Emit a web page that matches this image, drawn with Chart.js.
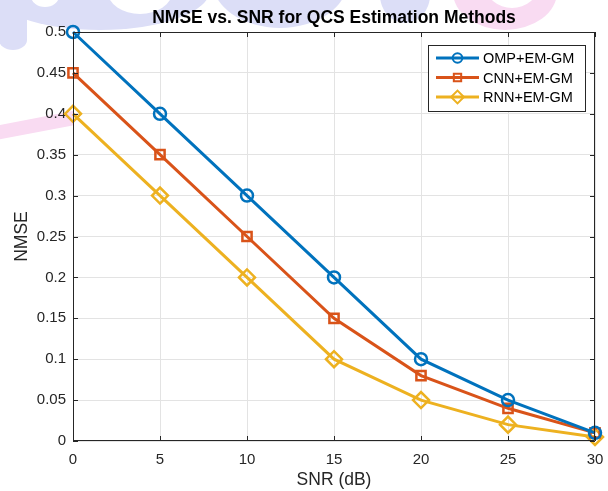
<!DOCTYPE html>
<html>
<head>
<meta charset="utf-8">
<script src="https://cdn.jsdelivr.net/npm/chart.js@4/dist/chart.umd.min.js"></script>
<style>
  html, body { margin: 0; padding: 0; background: #fff; }
  #nmseChart { display: block; }
</style>
</head>
<body>
<canvas id="nmseChart" width="608" height="491"></canvas>
<script>
// Data
const snrValues = [0, 5, 10, 15, 20, 25, 30];
const ompNmse = [0.5, 0.4, 0.3, 0.2, 0.1, 0.05, 0.01];
const cnnNmse = [0.45, 0.35, 0.25, 0.15, 0.08, 0.04, 0.01];
const rnnNmse = [0.4, 0.3, 0.2, 0.1, 0.05, 0.02, 0.005];
const seriesNames = ['OMP+EM-GM', 'CNN+EM-GM', 'RNN+EM-GM'];

const axisColor = '#262626';
const fontFamily = '"Liberation Sans", Arial, Helvetica, sans-serif';

function toPoints(ys) {
    return snrValues.map((x, i) => ({ x: x, y: ys[i] }));
}

function makeSet(label, ys, color, style, radius) {
    return {
        label: label,
        data: toPoints(ys),
        borderColor: color,
        backgroundColor: 'rgba(0,0,0,0)',
        borderWidth: 3,
        pointStyle: style,
        pointRadius: radius,
        pointHoverRadius: radius,
        pointBorderWidth: 2.5,
        pointBorderColor: color,
        pointBackgroundColor: 'rgba(0,0,0,0)',
        tension: 0,
        clip: false
    };
}

function blob(c, x, y, rx, ry, color) {
    c.fillStyle = color;
    c.beginPath();
    c.ellipse(x, y, rx, ry, 0, 0, Math.PI * 2);
    c.fill();
}

// faint watermark + white axes background, like the exported figure
const backdrop = {
    id: 'backdrop',
    beforeDraw(chart) {
        const c = chart.ctx;
        const a = chart.chartArea;
        const lav = '#dcdef7', pink = '#f9dbf2';
        c.save();
        c.fillStyle = '#fff';
        c.fillRect(0, 0, chart.width, chart.height);
        blob(c, 100, -10, 110, 40, lav);
        c.fillStyle = lav;
        c.fillRect(0, 0, 27, 40);
        blob(c, 13, 40, 14, 10, lav);
        blob(c, 140, -8, 32, 22, '#fff');
        blob(c, 45, -4, 14, 11, '#fff');
        blob(c, 280, -20, 68, 48, lav);
        blob(c, 405, -5, 25, 28, lav);
        blob(c, 505, -8, 52, 38, pink);
        blob(c, 512, -14, 26, 22, '#fff');
        c.strokeStyle = pink;
        c.lineCap = 'round';
        c.lineWidth = 14;
        c.beginPath();
        c.moveTo(-10, 134);
        c.lineTo(74, 118);
        c.stroke();
        c.fillStyle = '#fff';
        c.fillRect(a.left, a.top, a.right - a.left, a.bottom - a.top);
        c.restore();
    }
};

// box, inward ticks and legend
const frame = {
    id: 'frame',
    afterDraw(chart) {
        const c = chart.ctx;
        const a = chart.chartArea;
        const xs = chart.scales.x;
        const ys = chart.scales.y;
        c.save();
        c.strokeStyle = axisColor;
        c.lineWidth = 1;
        c.beginPath();
        c.rect(a.left + 0.5, a.top + 0.5, a.right - a.left - 1, a.bottom - a.top - 1);
        xs.ticks.forEach(t => {
            const px = Math.round(xs.getPixelForValue(t.value)) + 0.5;
            c.moveTo(px, a.bottom); c.lineTo(px, a.bottom - 5);
            c.moveTo(px, a.top); c.lineTo(px, a.top + 5);
        });
        ys.ticks.forEach(t => {
            const py = Math.round(ys.getPixelForValue(t.value)) + 0.5;
            c.moveTo(a.left, py); c.lineTo(a.left + 5, py);
            c.moveTo(a.right, py); c.lineTo(a.right - 5, py);
        });
        c.stroke();

        // legend
        const lx = 428, ly = 45, lw = 157, lh = 66;
        c.fillStyle = '#fff';
        c.fillRect(lx, ly, lw, lh);
        c.strokeRect(lx + 0.5, ly + 0.5, lw, lh);
        c.font = '14.5px ' + fontFamily;
        c.textBaseline = 'middle';
        chart.data.datasets.forEach((ds, i) => {
            const y = ly + 13 + i * 19.5;
            c.strokeStyle = ds.borderColor;
            c.lineWidth = 3;
            c.beginPath();
            c.moveTo(lx + 8, y); c.lineTo(lx + 51, y);
            c.stroke();
            c.fillStyle = 'rgba(0,0,0,0)';
            c.lineWidth = 2;
            Chart.helpers.drawPoint(c, {
                pointStyle: ds.pointStyle,
                radius: ds.pointRadius * 0.8,
                borderWidth: 2
            }, lx + 29.5, y);
            c.fillStyle = '#000';
            c.fillText(ds.label, lx + 55, y + 1);
        });
        c.restore();
    }
};

const ctx = document.getElementById('nmseChart').getContext('2d');

const nmseChart = new Chart(ctx, {
    type: 'line',
    data: {
        datasets: [
            makeSet(seriesNames[0], ompNmse, '#0072BD', 'circle', 6),
            makeSet(seriesNames[1], cnnNmse, '#D95319', 'rect', 6.5),
            makeSet(seriesNames[2], rnnNmse, '#EDB120', 'rectRot', 8)
        ]
    },
    options: {
        responsive: false,
        animation: false,
        events: [],
        layout: { padding: { left: 0, right: 13, top: 0, bottom: 0 } },
        plugins: {
            legend: { display: false },
            tooltip: { enabled: false },
            title: {
                display: true,
                text: 'NMSE vs. SNR for QCS Estimation Methods',
                fullSize: false,
                color: '#000',
                font: { family: fontFamily, size: 17.5, weight: 'bold' },
                padding: { top: 8, bottom: 3 }
            }
        },
        scales: {
            x: {
                type: 'linear',
                min: 0,
                max: 30,
                ticks: {
                    stepSize: 5,
                    color: axisColor,
                    padding: 10,
                    maxRotation: 0,
                    font: { family: fontFamily, size: 15 }
                },
                grid: { color: '#e3e3e3', drawTicks: false, tickLength: 0 },
                border: { display: false },
                title: {
                    display: true,
                    text: 'SNR (dB)',
                    color: axisColor,
                    font: { family: fontFamily, size: 17.5 },
                    padding: { top: 0, bottom: 0 }
                },
                afterFit(scale) {
                    scale.height = 50;
                    scale.paddingLeft = 0;
                    scale.paddingRight = 0;
                }
            },
            y: {
                min: 0,
                max: 0.5,
                ticks: {
                    stepSize: 0.05,
                    color: axisColor,
                    padding: 7,
                    font: { family: fontFamily, size: 15 },
                    callback: v => String(+v.toFixed(3))
                },
                grid: { color: '#e3e3e3', drawTicks: false, tickLength: 0 },
                border: { display: false },
                title: {
                    display: true,
                    text: 'NMSE',
                    color: axisColor,
                    font: { family: fontFamily, size: 17.5 },
                    padding: { top: 12, bottom: 0 }
                },
                afterFit(scale) {
                    scale.width = 73;
                    scale.paddingTop = 0;
                    scale.paddingBottom = 0;
                }
            }
        }
    },
    plugins: [backdrop, frame]
});
</script>
</body>
</html>
